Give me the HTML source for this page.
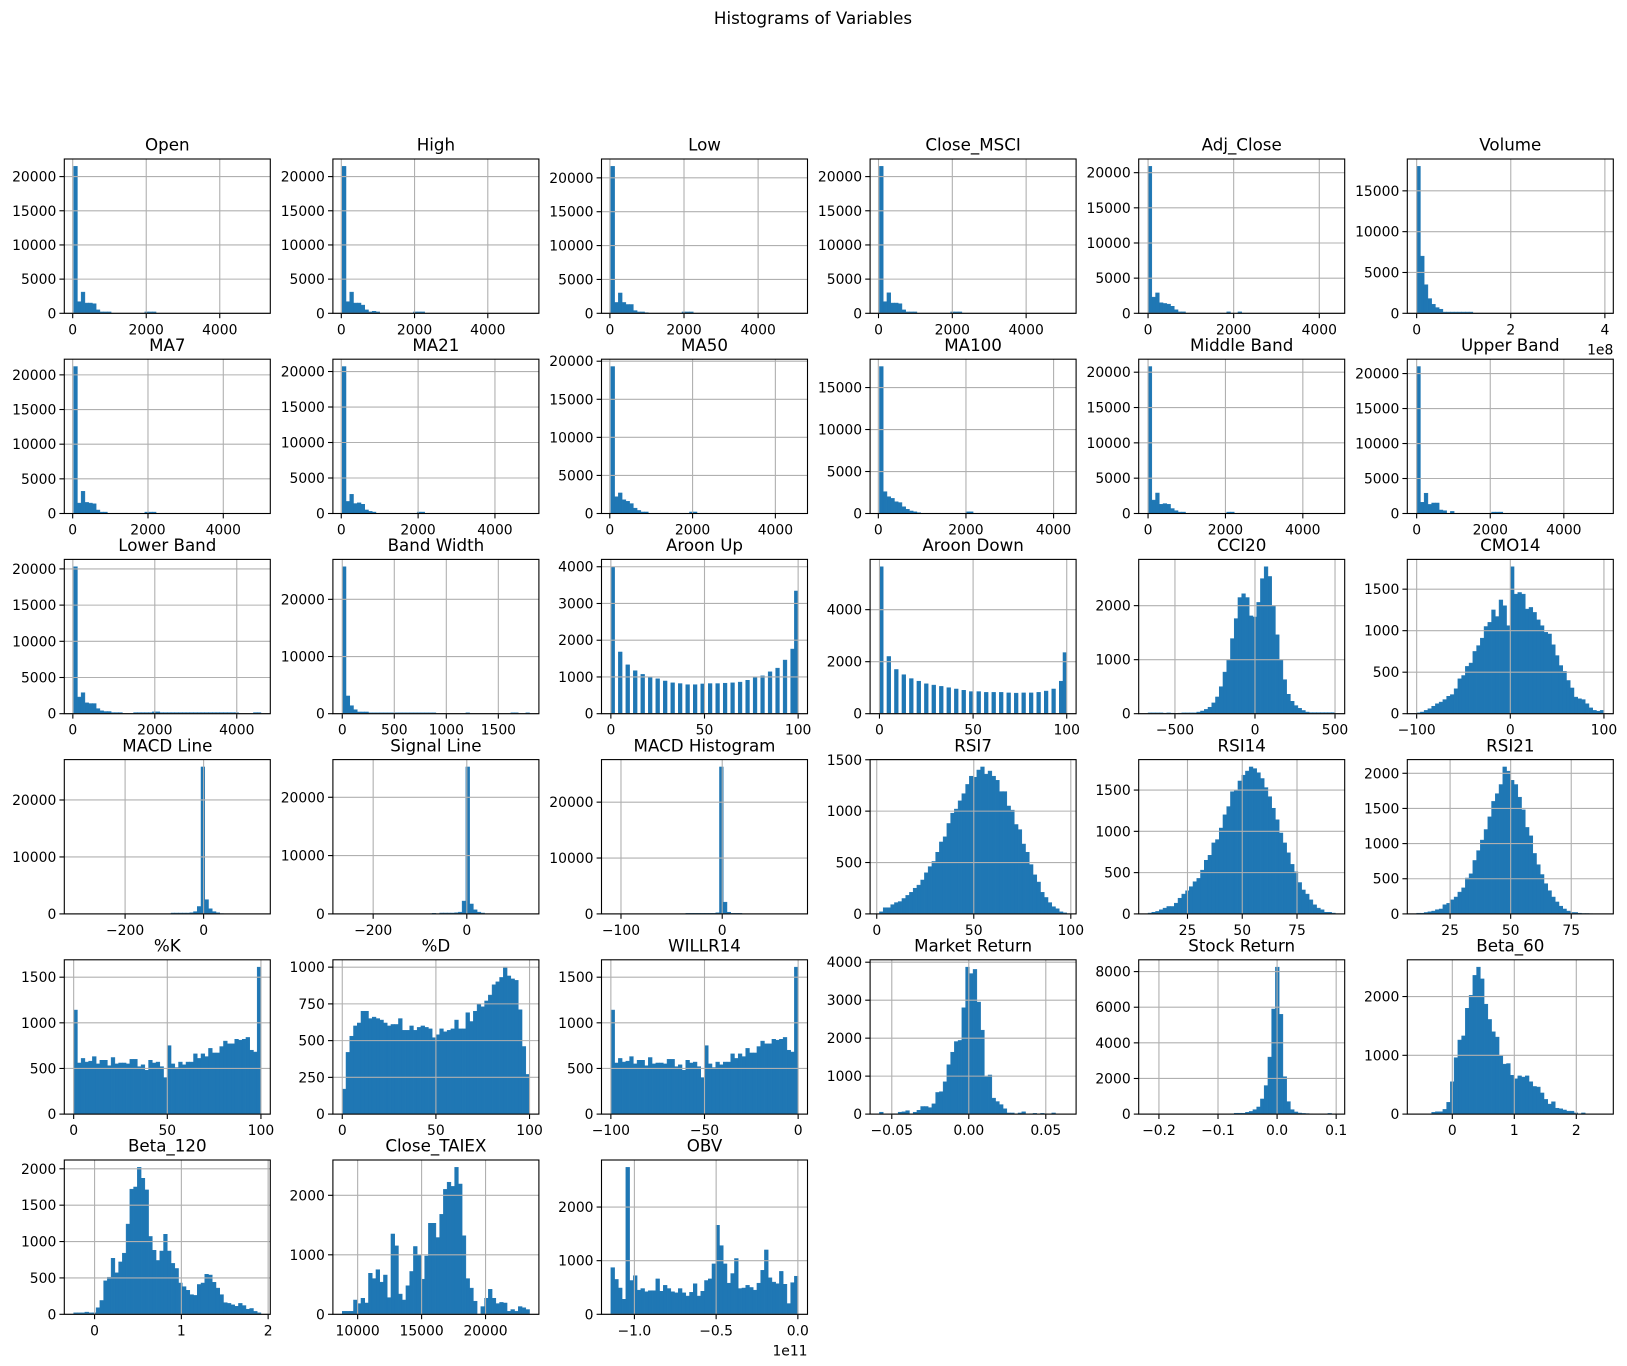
<!DOCTYPE html>
<html><head><meta charset="utf-8"><title>Histograms of Variables</title>
<style>
html,body{margin:0;padding:0;background:#fff;}
svg{display:block;font-family:"DejaVu Sans","Liberation Sans",sans-serif;}
</style></head>
<body>
<svg id="fig" width="1627" height="1366" viewBox="0 0 1627 1366" xmlns="http://www.w3.org/2000/svg">
<rect x="0" y="0" width="1627" height="1366" fill="#fff"/>
<text x="813" y="24" text-anchor="middle" font-size="16.7">Histograms of Variables</text>
</svg>
<script>
const titles = ["Open","High","Low","Close_MSCI","Adj_Close","Volume","MA7","MA21","MA50","MA100","Middle Band","Upper Band","Lower Band","Band Width","Aroon Up","Aroon Down","CCI20","CMO14","MACD Line","Signal Line","MACD Histogram","RSI7","RSI14","RSI21","%K","%D","WILLR14","Market Return","Stock Return","Beta_60","Beta_120","Close_TAIEX","OBV"];
const dataLo = [26,26,26,26,0,0,26,26,26,26,0,0,20,0,0,0,-668,-100,-331,-266,-110,1.4,7,11.2,0,0,-100,-0.058,-0.2184,-0.575,-0.241,8797,-1.144];
const dataHi = [5120,5140,5080,5100,4375,3.98,5000,4900,4550,4300,4840,5090,4590,1800,100,100,502,100,146,134,75,97.9,92.5,88.5,100,100,0,0.0636,0.0986,2.446,1.917,23439,0.0017];
const xTickVals = [[0,2000,4000],[0,2000,4000],[0,2000,4000],[0,2000,4000],[0,2000,4000],[0,2,4],[0,2000,4000],[0,2000,4000],[0,2000,4000],[0,2000,4000],[0,2000,4000],[0,2000,4000],[0,2000,4000],[0,500,1000,1500],[0,50,100],[0,50,100],[-500,0,500],[-100,0,100],[-200,0],[-200,0],[-100,0],[0,50,100],[25,50,75],[25,50,75],[0,50,100],[0,50,100],[-100,-50,0],[-0.05,0,0.05],[-0.2,-0.1,0,0.1],[0,1,2],[0,1,2],[10000,15000,20000],[-1,-0.5,0]];
const xTickLabels = [["0","2000","4000"],["0","2000","4000"],["0","2000","4000"],["0","2000","4000"],["0","2000","4000"],["0","2","4"],["0","2000","4000"],["0","2000","4000"],["0","2000","4000"],["0","2000","4000"],["0","2000","4000"],["0","2000","4000"],["0","2000","4000"],["0","500","1000","1500"],["0","50","100"],["0","50","100"],["\u2212500","0","500"],["\u2212100","0","100"],["\u2212200","0"],["\u2212200","0"],["\u2212100","0"],["0","50","100"],["25","50","75"],["25","50","75"],["0","50","100"],["0","50","100"],["\u2212100","\u221250","0"],["\u22120.05","0.00","0.05"],["\u22120.2","\u22120.1","0.0","0.1"],["0","1","2"],["0","1","2"],["10000","15000","20000"],["\u22121.0","\u22120.5","0.0"]];
const yTickVals = [[0,5000,10000,15000,20000],[0,5000,10000,15000,20000],[0,5000,10000,15000,20000],[0,5000,10000,15000,20000],[0,5000,10000,15000,20000],[0,5000,10000,15000],[0,5000,10000,15000,20000],[0,5000,10000,15000,20000],[0,5000,10000,15000,20000],[0,5000,10000,15000],[0,5000,10000,15000,20000],[0,5000,10000,15000,20000],[0,5000,10000,15000,20000],[0,10000,20000],[0,1000,2000,3000,4000],[0,2000,4000],[0,1000,2000],[0,500,1000,1500],[0,10000,20000],[0,10000,20000],[0,10000,20000],[0,500,1000,1500],[0,500,1000,1500],[0,500,1000,1500,2000],[0,500,1000,1500],[0,250,500,750,1000],[0,500,1000,1500],[0,1000,2000,3000,4000],[0,2000,4000,6000,8000],[0,1000,2000],[0,500,1000,1500,2000],[0,1000,2000],[0,1000,2000]];
const offsetLabels = {5:"1e8",32:"1e11"};
const c0 = [21500,1700,3100,1500,1500,1400,500,200,200,200,0,0,0,0,0,0,0,0,0,200,200,200];
const c1 = [21500,1700,3100,1500,1500,1200,500,200,300,200,0,0,0,0,0,0,0,0,0,200,200,200];
const c2 = [21700,1600,3000,1600,1300,1300,400,200,200,100,0,0,0,0,0,0,0,0,0,200,200,200];
const c3 = [21500,1700,3000,1500,1500,1400,500,200,200,200,0,0,0,0,0,0,0,0,0,200,200,200];
const c4 = [20900,2300,2900,1500,1400,1300,1000,500,200,200,0,0,0,0,0,0,0,0,0,0,0,200,0,0,200];
const c5 = [18000,7000,3500,1800,1100,700,500,150,150,150,150,150,150,150,150];
const c6 = [21200,1500,3200,1600,1500,1400,500,200,200,0,0,0,0,0,0,0,0,0,0,200,200,200];
const c7 = [20700,1700,2700,1400,1500,1300,500,300,200,0,0,0,0,0,0,0,0,0,0,0,200,200];
const c8 = [19300,2200,2700,1800,1600,1300,700,400,200,200,0,0,0,0,0,0,0,0,0,0,0,200,200];
const c9 = [17500,2600,2000,1800,1400,1300,800,500,300,200,100,0,0,0,0,0,0,0,0,0,0,0,0,200,200];
const c10 = [20800,1900,2900,1300,1400,1300,700,400,200,200,0,0,0,0,0,0,0,0,0,0,0,200,200];
const c11 = [21000,1600,2900,1300,1500,1500,500,400,0,300,0,0,0,0,0,0,0,0,0,0,200,200,200];
const c12 = [20300,2300,2900,1500,1400,1400,700,400,300,300,150,150,150,0,0,0,150,150,150,150,150,250,250,150,150,150,150,150,150,150,150,150,150,150,150,150,150,150,150,150,150,150,150,150,0,0,0,0,150,150];
const c13 = [25700,3100,1400,700,300,300,300,150,150,150,150,150,150,150,150,150,150,150,150,150,150,150,150,150,150,0,0,0,0,0,0,0,0,150,0,0,0,0,0,0,0,0,0,0,0,150,150,0,0,150];
const c14 = [4000,0,1680,0,1330,0,1170,0,1070,0,990,0,950,0,890,0,840,0,820,0,790,0,790,0,810,0,820,0,820,0,830,0,840,0,860,0,910,0,980,0,1030,0,1140,0,1240,0,1460,0,1760,3340];
const c15 = [5650,0,2200,0,1700,0,1500,0,1350,0,1250,0,1150,0,1100,0,1050,0,1000,0,950,0,900,0,850,0,850,0,820,0,820,0,820,0,800,0,790,0,800,0,800,0,820,0,870,0,950,0,1250,2350];
const c16 = [15,15,15,15,10,15,10,5,10,15,15,15,15,30,50,80,120,200,310,500,770,1000,1390,1760,2150,2220,2150,1810,1790,2060,2500,2720,2540,2000,1460,1000,630,360,230,150,100,60,30,20,20,20,20,20,20,20];
const c17 = [10,20,40,60,90,120,140,170,210,230,300,420,460,570,610,750,820,910,1050,1100,1250,1170,1370,1300,1060,1770,1440,1460,1440,1260,1280,1220,1130,1060,980,960,830,700,580,510,400,310,200,180,170,120,70,40,30,40];
const c18 = [0,0,0,0,0,0,0,0,0,0,0,0,0,0,0,0,0,0,0,0,0,0,0,0,0,0,150,150,150,150,150,200,400,1300,25800,2500,900,400,200,50];
const c19 = [0,0,0,0,0,0,0,0,0,0,0,0,0,0,0,0,0,0,0,0,0,0,0,0,100,0,150,150,150,150,200,300,2200,25200,1700,700,300,150];
const c20 = [0,0,0,0,0,0,0,0,0,0,0,0,0,0,0,0,0,0,0,0,100,100,100,100,100,100,100,100,200,26300,2100,300,100,100,100];
const c21 = [20,60,60,90,110,120,150,180,210,250,280,330,400,460,510,600,700,750,880,980,1020,1100,1170,1260,1340,1330,1400,1430,1360,1390,1340,1300,1190,1190,1050,1010,870,820,680,600,480,380,310,210,160,110,70,50,20,10];
const c22 = [10,20,30,50,70,90,90,130,190,240,280,330,390,430,530,650,710,860,900,1040,1200,1300,1480,1500,1610,1680,1730,1780,1760,1710,1640,1530,1420,1280,1140,980,860,740,600,510,380,290,240,170,110,70,50,20,20,10];
const c23 = [10,10,20,30,40,60,70,130,150,200,240,310,370,510,570,760,900,1050,1200,1380,1600,1710,1840,2090,2030,1900,1840,1660,1480,1230,1110,860,700,560,430,330,240,170,110,70,40,20,20,10,5,5,3,2,2,2];
const c24 = [1140,560,610,570,580,630,550,590,590,530,620,550,560,560,550,600,600,520,540,480,590,560,570,520,400,750,550,510,570,540,570,570,660,610,660,630,720,670,670,740,800,770,770,820,810,820,840,700,680,1610];
const c25 = [170,420,530,600,620,700,700,650,660,650,640,620,600,610,610,650,570,570,600,570,590,600,590,580,520,540,580,560,570,580,640,580,580,690,630,700,750,730,770,810,880,900,930,1000,940,920,910,710,460,270];
const c26 = [1140,560,610,570,580,630,550,590,590,530,620,550,560,560,550,600,600,520,540,480,590,560,570,520,400,750,550,510,570,540,570,570,660,610,660,630,720,670,670,740,800,770,770,820,810,820,840,700,680,1610];
const c27 = [50,0,0,10,10,50,60,90,10,50,100,200,200,170,270,570,590,850,1300,1630,1910,1940,2800,3870,3700,3810,2950,2210,980,1030,420,330,250,140,30,30,0,30,60,0,10,20,0,20,10,0,30,0,0,0];
const c28 = [5,0,0,0,0,0,0,0,0,0,0,0,0,0,0,0,0,0,0,0,0,0,0,50,50,50,100,150,250,400,850,1600,3200,5900,8250,5600,2100,700,250,120,60,40,30,20,10,10,0,0,40,0];
const c29 = [0,0,0,0,30,40,40,80,200,550,960,1260,1330,1800,2020,2360,2500,2300,1870,1610,1400,1310,1000,850,860,660,600,650,630,650,550,470,460,360,250,170,210,100,90,70,50,50,20,0,20,0,0,0,0,5];
const c30 = [20,20,20,30,20,20,90,190,460,510,770,570,720,840,1240,1720,1750,2020,1870,1710,1070,880,740,870,1100,870,700,630,430,380,330,270,260,410,430,550,540,440,360,270,160,150,130,110,150,120,70,80,40,20];
const c31 = [50,50,50,240,180,270,190,690,600,750,540,660,280,1350,1150,340,240,480,720,1140,1000,590,980,1530,1530,1290,1680,2100,2220,2150,2470,2190,1320,600,440,220,0,130,270,420,270,180,200,190,50,80,50,130,110,80];
const c32 = [870,650,490,280,2740,630,720,450,480,420,440,440,660,430,540,480,420,400,480,400,340,410,570,340,430,630,660,940,1660,1280,940,580,760,1040,480,490,540,500,450,580,820,1200,680,600,570,800,560,200,590,710];
const allCounts = [c0,c1,c2,c3,c4,c5,c6,c7,c8,c9,c10,c11,c12,c13,c14,c15,c16,c17,c18,c19,c20,c21,c22,c23,c24,c25,c26,c27,c28,c29,c30,c31,c32];

const NB = 50, AW = 206, AH = 154.3;
const NS = "http://www.w3.org/2000/svg";
const svg = document.getElementById('fig');
function mk(tag, attrs, parent){ const e=document.createElementNS(NS,tag); for(const k in attrs) e.setAttribute(k,attrs[k]); (parent||svg).appendChild(e); return e; }
function slug(s){ return s.toLowerCase().replace(/%/g,'pct-').replace(/[^a-z0-9]+/g,'-').replace(/^-|-$/g,''); }

for (let p = 0; p < titles.length; p++) {
  const col = p % 6, row = Math.floor(p / 6);
  const L = 64.3 + col * 268.6, T = 159 + row * 200.2, B = T + AH, R = L + AW;
  const lo = dataLo[p], hi = dataHi[p], rng = hi - lo;
  const x0 = lo - 0.05 * rng, x1 = hi + 0.05 * rng;
  const counts = allCounts[p];
  const ymax = Math.max(...counts) * 1.05;
  const sx = v => L + (v - x0) / (x1 - x0) * AW;
  const sy = v => B - v / ymax * AH;
  const name = slug(titles[p]);
  const g = mk('g', {});
  
  
  const bw = rng / NB;
  const bars = mk('g', {}, g);
  
  
  for (let i = 0; i < counts.length; i++) {
    if (counts[i] <= 0) continue;
    const xa = sx(lo + i * bw), xb = sx(lo + (i + 1) * bw);
    const r = mk('rect', {x: xa.toFixed(2), y: sy(counts[i]).toFixed(2), width: Math.max(0.6, xb - xa).toFixed(2), height: (B - sy(counts[i])).toFixed(2), fill: '#1f77b4', stroke: '#1f77b4', 'stroke-width': 0.5}, bars);
    
    
  }
  const xt = xTickVals[p], xl = xTickLabels[p];
  for (let i = 0; i < xt.length; i++) {
    const x = sx(xt[i]);
    const gl = mk('line', {x1: x, x2: x, y1: T, y2: B, stroke: '#b0b0b0', 'stroke-width': 1.1}, g);
    
    
    mk('line', {x1: x, x2: x, y1: B, y2: B + 4.9, stroke: '#000', 'stroke-width': 1.1}, g);
    const t = mk('text', {x: x, y: B + 21, 'text-anchor': 'middle', 'font-size': 13.9}, g);
    t.textContent = xl[i];
    
    
  }
  const yt = yTickVals[p];
  for (let i = 0; i < yt.length; i++) {
    const y = sy(yt[i]);
    const gl = mk('line', {x1: L, x2: R, y1: y, y2: y, stroke: '#b0b0b0', 'stroke-width': 1.1}, g);
    
    
    mk('line', {x1: L - 4.9, x2: L, y1: y, y2: y, stroke: '#000', 'stroke-width': 1.1}, g);
    const t = mk('text', {x: L - 8, y: y + 5, 'text-anchor': 'end', 'font-size': 13.9}, g);
    t.textContent = String(yt[i]);
    
    
  }
  const frame = mk('rect', {x: L, y: T, width: AW, height: AH, fill: 'none', stroke: '#000', 'stroke-width': 1.1}, g);
  
  
  const tt = mk('text', {x: L + AW / 2, y: T - 8.3, 'text-anchor': 'middle', 'font-size': 16.7}, g);
  tt.textContent = titles[p];
  
  
  if (offsetLabels[p]) {
    const ot = mk('text', {x: R, y: B + 41, 'text-anchor': 'end', 'font-size': 13.9}, g);
    ot.textContent = offsetLabels[p];
    
    
  }
}
</script>
</body></html>
